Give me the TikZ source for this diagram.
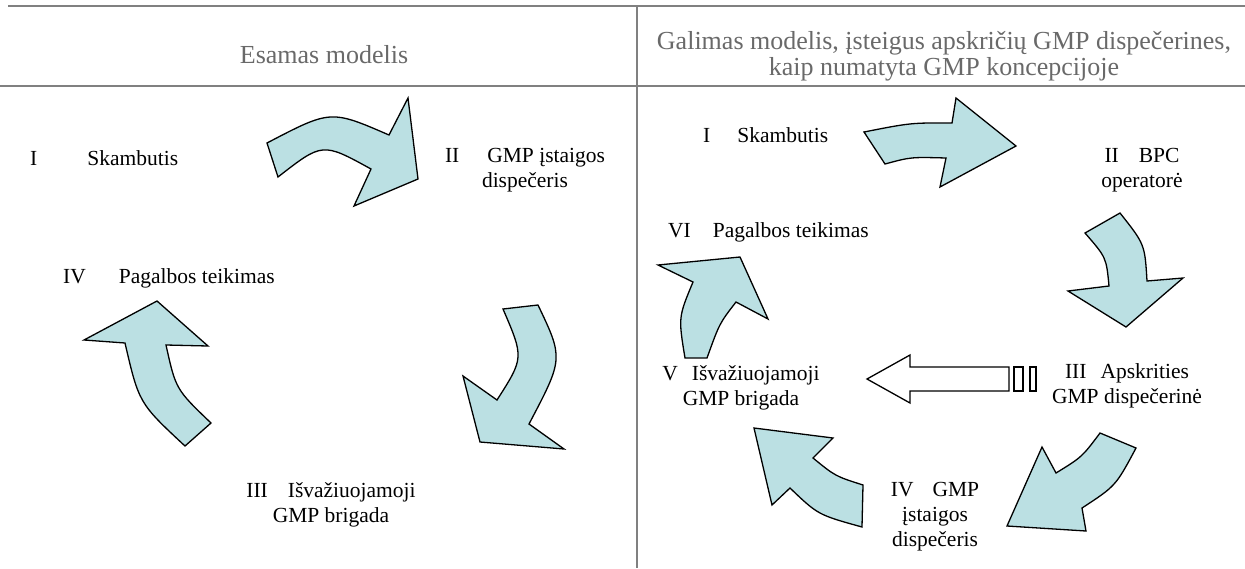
\documentclass[tikz,border=0pt]{standalone}
\usepackage{fontspec}
\setmainfont{Liberation Serif}
\definecolor{arrowfill}{RGB}{187,224,227}
\definecolor{rulegray}{RGB}{128,128,128}
\definecolor{headgray}{RGB}{105,105,105}
\begin{document}
\begin{tikzpicture}[x=1pt,y=-1pt,
  lbl/.style={font=\fontsize{21.5}{25}\selectfont, align=center, inner sep=0pt},
  hdr/.style={font=\fontsize{26}{26}\selectfont, text=headgray, align=center, inner sep=0pt},
  bigarrow/.style={draw=black, line width=1.3pt, fill=arrowfill, line join=miter},
  hollowarrow/.style={draw=black, line width=1.3pt, fill=white, line join=miter},
  rulestyle/.style={draw=rulegray, line width=2.5pt}]
\useasboundingbox (0,0) rectangle (1245,568);
% table rules
\draw[rulestyle] (8,6) -- (1245,6);
\draw[rulestyle] (0,86) -- (1245,86);
\draw[rulestyle] (637,6) -- (637,568);
% headers
\node[hdr] (h1) at (324,55) {Esamas modelis};
\node[hdr] (h2) at (944,56) {Galimas modelis, įsteigus apskričių GMP dispečerines,\\kaip numatyta GMP koncepcijoje};
% left panel labels
\node[lbl, anchor=west] (l1) at (30,158) {I\hspace{50pt}Skambutis};
\node[lbl] (l2) at (525,170.5) {II\hspace{28pt}GMP įstaigos\\dispečeris};
\node[lbl, anchor=west] (l4) at (63,278) {IV\hspace{33pt}Pagalbos teikimas};
\node[lbl] (l3) at (331,505) {III\hspace{20pt}Išvažiuojamoji\\GMP brigada};
% right panel labels
\node[lbl, anchor=west] (r1) at (703,135) {I\hspace{27pt}Skambutis};
\node[lbl] (r2) at (1142,170.5) {II\hspace{20pt}BPC\\operatorė};
\node[lbl, anchor=west] (r6) at (668,232) {VI\hspace{22pt}Pagalbos teikimas};
\node[lbl] (r3) at (1127,385.5) {III\hspace{14pt}Apskrities\\GMP dispečerinė};
\node[lbl] (r5) at (741,387.5) {V\hspace{14pt}Išvažiuojamoji\\GMP brigada};
\node[lbl] (r4) at (935,517) {IV\hspace{19pt}GMP\\įstaigos\\dispečeris};
% left panel arrows
\draw[bigarrow] (267,143) .. controls (330.7,109.7) .. (389,135) -- (408,98) -- (418,179) -- (354,206) -- (371,169) .. controls (322.5,142.3) .. (278,177) -- cycle;
\draw[bigarrow] (503,309) -- (538,305) .. controls (563.5,358.5) .. (529,424) -- (564,449) -- (480,442) -- (463,376) -- (497,400) .. controls (524,357.8) .. (503,309) -- cycle;
\draw[bigarrow] (157,301) -- (208,346) -- (166,345) .. controls (175.8,389.3) .. (211,423) -- (185,446) .. controls (139,403.2) .. (125,343) -- (84,340) -- cycle;
% right panel arrows
\draw[bigarrow] (864,132) .. controls (910.7,122.8) .. (952,123) -- (956,98) -- (1016,146) -- (940,187) -- (946,158) .. controls (910.8,157) .. (885,164) -- cycle;
\draw[bigarrow] (1085,233) -- (1120,213) .. controls (1144.8,244.3) .. (1147,281) -- (1183,278) -- (1126,327) -- (1068,291) -- (1109,286) .. controls (1106.3,257.5) .. (1085,233) -- cycle;
\draw[hollowarrow] (867,379) -- (910,355) -- (910,367) -- (1009,367) -- (1009,391) -- (910,391) -- (910,403) -- cycle;
\draw[hollowarrow] (1014,367) rectangle (1023,391);
\draw[hollowarrow] (1030,367) rectangle (1036,391);
\draw[bigarrow] (1007,526) -- (1042,447) -- (1056,473) .. controls (1082,457) .. (1100,433) -- (1136,448) .. controls (1115.7,486) .. (1082,508) -- (1086,531) -- cycle;
\draw[bigarrow] (754,428) -- (833,438) -- (813,458) .. controls (835.3,476.2) .. (863,485) -- (862,527) .. controls (818,514.8) .. (790,488) -- (772,505) -- cycle;
\draw[bigarrow] (685,358) -- (707,358) .. controls (719.5,323.3) .. (736,302) -- (768,319) -- (740,257) -- (658,265) -- (693,282) .. controls (678.3,317.3) .. (685,358) -- cycle;
\end{tikzpicture}
\end{document}
